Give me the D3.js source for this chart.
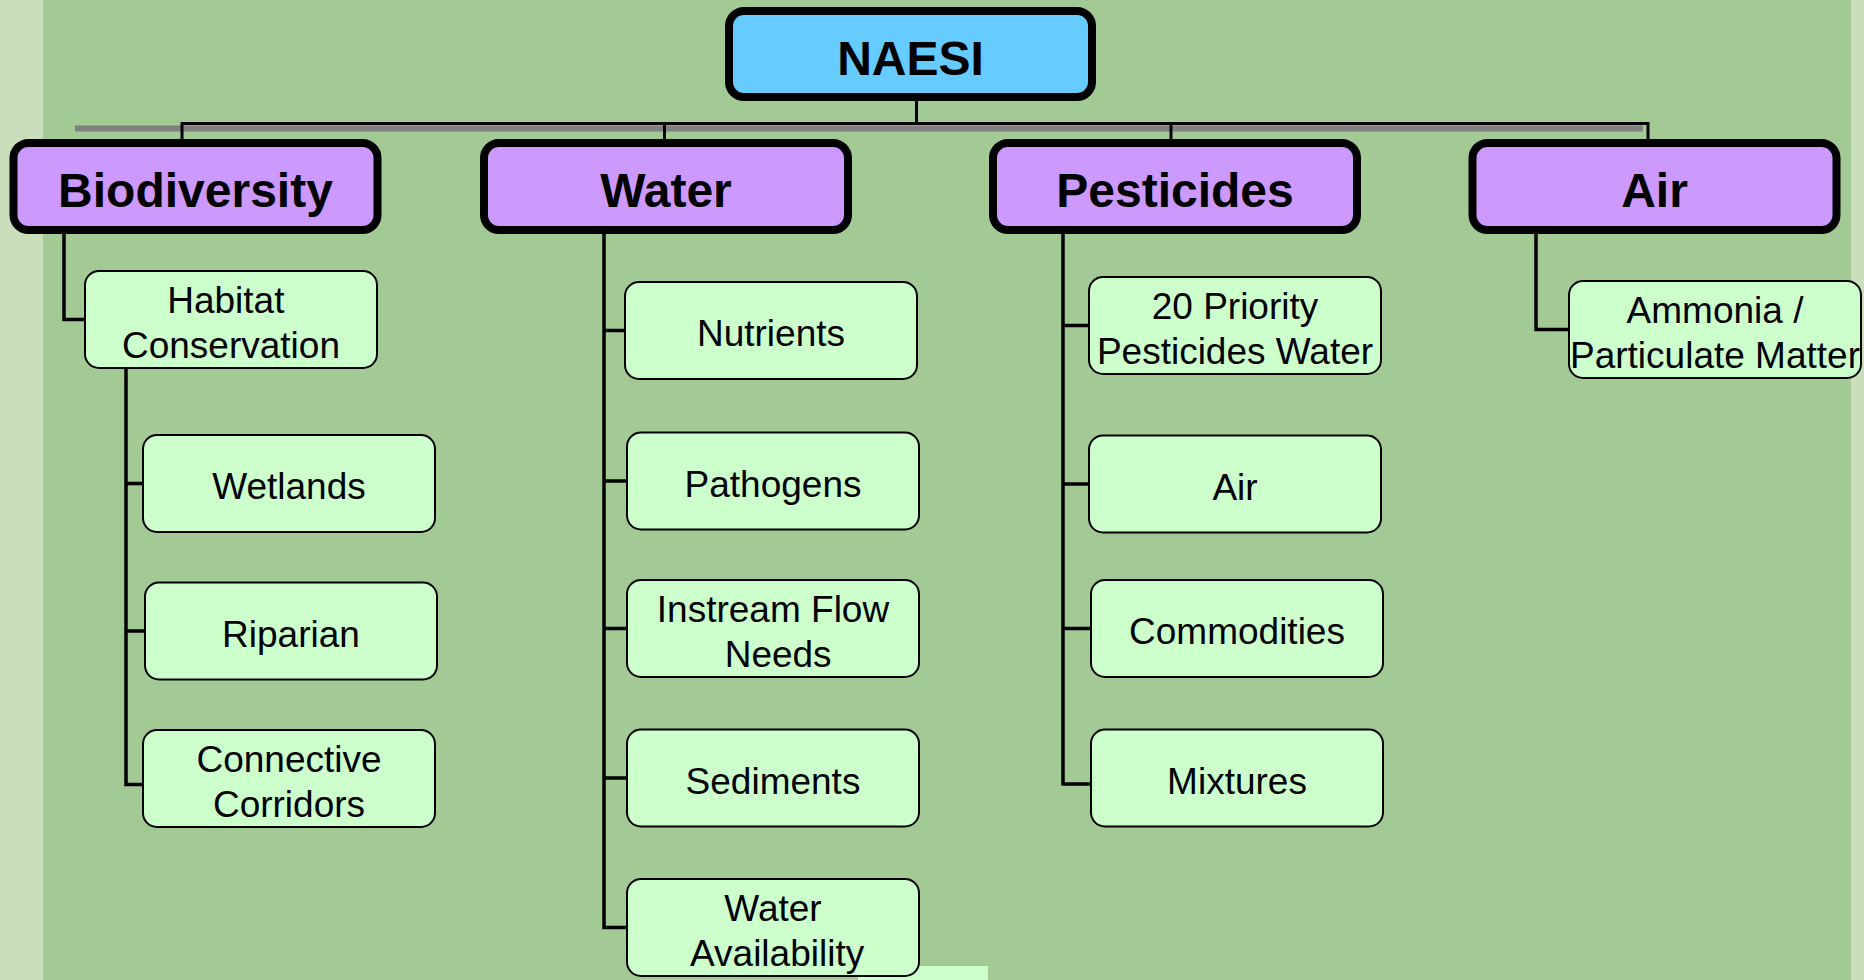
<!DOCTYPE html>
<html>
<head>
<meta charset="utf-8">
<script src="https://cdn.jsdelivr.net/npm/d3@7"></script>
<style>
  html, body { margin: 0; padding: 0; background: #a3c995; }
  svg { display: block; }
  text { font-family: "Liberation Sans", Arial, "DejaVu Sans", sans-serif; white-space: pre; }
</style>
</head>
<body>
<svg id="chart" width="1864" height="980"></svg>
<script>
// ---------------- DATA ----------------
const rootLabel = ["NAESI"];
const categories = ["Biodiversity", "Water", "Pesticides", "Air"];
const biodiversityItems = [["Habitat ", "Conservation"], ["Wetlands"], ["Riparian"], ["Connective", "Corridors"]];
const waterItems = [["Nutrients"], ["Pathogens"], ["Instream Flow", " Needs"], ["Sediments"], ["Water", " Availability"]];
const pesticideItems = [["20 Priority", "Pesticides Water"], ["Air"], ["Commodities"], ["Mixtures"]];
const airItems = [["Ammonia /", "Particulate Matter"]];

// ---------------- LAYOUT / STYLE ----------------
const W = 1864, H = 980;
const C = {
  bg: "#a3c995", strip: "#cbdebb", leaf: "#ccffcc", cat: "#cc99ff", root: "#66ccff",
  gray: "#808080", ink: "#000"
};
const svg = d3.select("#chart");

// background
svg.append("rect").attr("x", 0).attr("y", 0).attr("width", W).attr("height", H).attr("fill", C.bg);
svg.append("rect").attr("x", 0).attr("y", 0).attr("width", 43).attr("height", H).attr("fill", C.strip);
svg.append("rect").attr("x", 1851).attr("y", 0).attr("width", W - 1851).attr("height", H).attr("fill", C.strip);
svg.append("rect").attr("x", 858).attr("y", 966).attr("width", 130).attr("height", 14).attr("fill", C.leaf);

// scales
const catX = d3.scaleOrdinal().domain(categories).range([195.5, 666, 1175, 1654.5]);  // box centres
const catDrop = d3.scaleOrdinal().domain(categories).range([182, 664.5, 1171, 1648]);  // connector drops
const rowY = d3.scaleLinear().domain([0, 4]).range([281, 879]);                       // leaf box tops

const catSW = 8;
const catW = 364, catH = 87;
const rootBox = { cx: 910.5, y: 11, w: 363, h: 86 };
const catTop = 143;
const leafW = 292, leafH = 97;
const busY = 123.5;

function addText(g, lines, cx, cy, fs, weight, lh) {
  const t = g.append("text").attr("text-anchor", "middle")
    .attr("font-size", fs).attr("font-weight", weight).attr("fill", C.ink);
  const n = lines.length;
  lines.forEach((ln, i) => {
    t.append("tspan").attr("x", cx)
      .attr("y", cy + (i - (n - 1) / 2) * lh + 0.43 * fs)
      .text(ln);
  });
}

// gray bar + connector bus
svg.append("rect").attr("x", 75).attr("y", 125.5).attr("width", 1568).attr("height", 6).attr("fill", C.gray);
const lines = svg.append("g").attr("stroke", C.ink).attr("fill", "none").attr("stroke-width", 3);
lines.append("line").attr("x1", rootBox.cx + 6).attr("x2", rootBox.cx + 6).attr("y1", rootBox.y + rootBox.h).attr("y2", busY);
lines.append("line").attr("x1", catDrop(categories[0])).attr("x2", catDrop(categories[3])).attr("y1", busY).attr("y2", busY);
categories.forEach(c => {
  lines.append("line").attr("x1", catDrop(c)).attr("x2", catDrop(c)).attr("y1", busY - 1.5).attr("y2", catTop);
});

// root box
const gRoot = svg.append("g");
gRoot.append("rect").attr("x", rootBox.cx - rootBox.w / 2).attr("y", rootBox.y)
  .attr("width", rootBox.w).attr("height", rootBox.h).attr("rx", 15)
  .attr("fill", C.root).attr("stroke", C.ink).attr("stroke-width", catSW);
addText(gRoot, rootLabel, rootBox.cx, rootBox.y + rootBox.h / 2, 48, "bold", 0);

// category boxes
const gCat = svg.append("g");
gCat.selectAll("rect").data(categories).join("rect")
  .attr("x", d => catX(d) - catW / 2).attr("y", catTop)
  .attr("width", catW).attr("height", catH).attr("rx", 15)
  .attr("fill", C.cat).attr("stroke", C.ink).attr("stroke-width", catSW);
categories.forEach(c => addText(gCat, [c], catX(c), catTop + catH / 2, 48, "bold", 0));

const catBottom = catTop + catH + catSW / 2;

// leaf helper
const leafG = svg.append("g");
const connG = svg.append("g").attr("stroke", C.ink).attr("fill", "none").attr("stroke-width", 3.5);
function leaf(lines, x, y) {
  leafG.append("rect").attr("x", x).attr("y", y).attr("width", leafW).attr("height", leafH).attr("rx", 14)
    .attr("fill", C.leaf).attr("stroke", C.ink).attr("stroke-width", 2);
  addText(leafG, lines, x + leafW / 2, y + leafH / 2, 37, "normal", 45);
}
function branch(trunkX, yStart, items, boxX, nudge, extraLast) {
  const ys = items.map((d, i) => rowY(i) + (nudge[i] || 0));
  const ticks = ys.map((y, i) => y + leafH / 2 + (i === items.length - 1 && items.length > 1 ? extraLast : 0));
  connG.append("path").attr("d",
    `M${trunkX},${yStart}V${ticks[ticks.length - 1]}H${boxX(items.length - 1)}` +
    ticks.slice(0, -1).map((t, i) => `M${trunkX},${t}H${boxX(i)}`).join(""));
  items.forEach((d, i) => leaf(d, boxX(i), ys[i]));
}

// Biodiversity: Habitat first, then sub-items hang from Habitat
(function () {
  const trunk = 64, hx = 85, hy = 271;
  connG.append("path").attr("d", `M${trunk},${catBottom}V${hy + leafH / 2}H${hx}`);
  leaf(biodiversityItems[0], hx, hy);
  const sub = biodiversityItems.slice(1);
  const subRows = d3.scaleLinear().domain([0, sub.length - 1]).range([435, 730]);
  const subTrunk = 126;
  const subX = [143, 145, 143];
  const ys = sub.map((d, i) => subRows(i));
  const ticks = ys.map((y, i) => y + leafH / 2 + (i === sub.length - 1 ? 6 : 0));
  connG.append("path").attr("d",
    `M${subTrunk},${hy + leafH}V${ticks[ticks.length - 1]}H${subX[sub.length - 1]}` +
    ticks.slice(0, -1).map((t, i) => `M${subTrunk},${t}H${subX[i]}`).join(""));
  sub.forEach((d, i) => leaf(d, subX[i], ys[i]));
})();

// Water
branch(604, catBottom, waterItems, i => (i === 0 ? 625 : 627), [1, 2, 0, 0, 0], 0);
// Pesticides
branch(1063, catBottom, pesticideItems, i => (i < 2 ? 1089 : 1091), [-4, 5, 0, 0], 6);
// Air
branch(1536, catBottom, airItems, () => 1569, [0], 0);
</script>
</body>
</html>
